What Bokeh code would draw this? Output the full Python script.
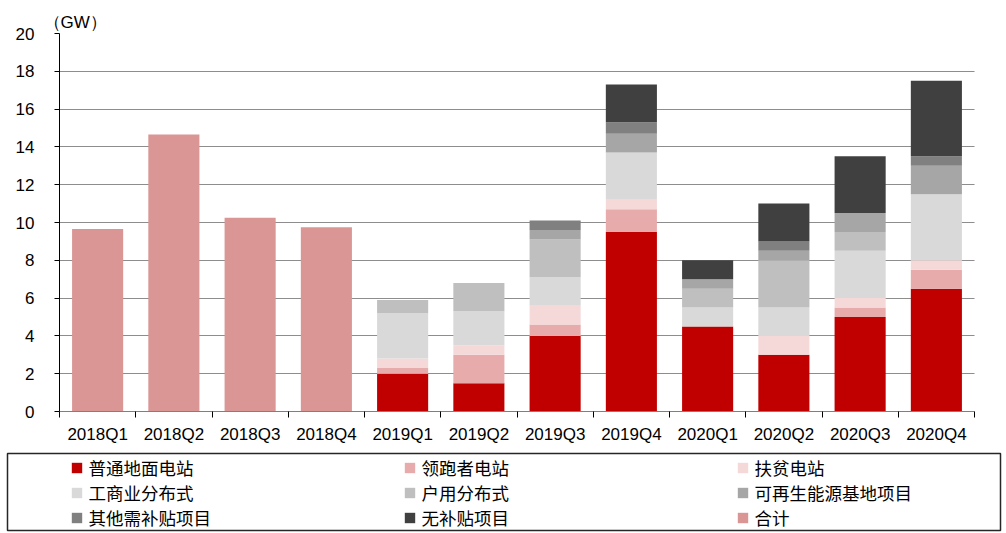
from bokeh.plotting import figure
from bokeh.models import Range1d, FixedTicker, Legend, LegendItem, ColumnDataSource, Title
from bokeh.layouts import column
from bokeh.embed import file_html
from bokeh.resources import INLINE

# ---------------- data ----------------
quarters = ["2018Q1", "2018Q2", "2018Q3", "2018Q4",
            "2019Q1", "2019Q2", "2019Q3", "2019Q4",
            "2020Q1", "2020Q2", "2020Q3", "2020Q4"]
ground    = [0, 0, 0, 0, 2.0, 1.5, 4.0, 9.5, 4.5, 3.0, 5.0, 6.5]   # 普通地面电站
leader    = [0, 0, 0, 0, 0.3, 1.5, 0.6, 1.2, 0.0, 0.0, 0.5, 1.0]   # 领跑者电站
poverty   = [0, 0, 0, 0, 0.5, 0.5, 1.0, 0.5, 0.0, 1.0, 0.5, 0.5]   # 扶贫电站
commerce  = [0, 0, 0, 0, 2.4, 1.8, 1.5, 2.5, 1.0, 1.5, 2.5, 3.5]   # 工商业分布式
household = [0, 0, 0, 0, 0.7, 1.5, 2.0, 0.0, 1.0, 2.5, 1.0, 0.0]   # 户用分布式
base      = [0, 0, 0, 0, 0.0, 0.0, 0.5, 1.0, 0.5, 0.5, 1.0, 1.5]   # 可再生能源基地项目
other     = [0, 0, 0, 0, 0.0, 0.0, 0.5, 0.6, 0.0, 0.5, 0.0, 0.5]   # 其他需补贴项目
nosubsidy = [0, 0, 0, 0, 0.0, 0.0, 0.0, 2.0, 1.0, 2.0, 3.0, 4.0]   # 无补贴项目
total     = [9.65, 14.65, 10.25, 9.75, 0, 0, 0, 0, 0, 0, 0, 0]     # 合计

series_keys = ["ground", "leader", "poverty", "commerce", "household", "base", "other", "nosubsidy"]
series_labels = ["普通地面电站", "领跑者电站", "扶贫电站", "工商业分布式", "户用分布式",
                 "可再生能源基地项目", "其他需补贴项目", "无补贴项目"]
series_colors = ["#C00000", "#E8ABAB", "#F5D9D9", "#D9D9D9", "#BFBFBF", "#A6A6A6", "#808080", "#404040"]
total_label = "合计"
total_color = "#D99694"
y_ticks = list(range(0, 21, 2))
unit_text = "（GW）"

xc = [i + 0.5 for i in range(len(quarters))]
source = ColumnDataSource(dict(x=xc, q=quarters, ground=ground, leader=leader, poverty=poverty,
                               commerce=commerce, household=household, base=base, other=other,
                               nosubsidy=nosubsidy, total=total))

FONT = "Liberation Sans"
CJK = "Noto Sans CJK SC"
BAR_W = 0.67

# ---------------- main chart ----------------
p = figure(frame_width=915, frame_height=378,
           min_border_left=59, min_border_right=32, min_border_top=33, min_border_bottom=41,
           x_range=Range1d(0, len(quarters)), y_range=Range1d(0, 20),
           output_backend="svg", toolbar_location=None, frame_align=False)

p.vbar_stack(series_keys, x="x", width=BAR_W, source=source,
             fill_color=series_colors, line_color=None)
p.vbar(x="x", top="total", width=BAR_W, source=source, fill_color=total_color, line_color=None)

p.outline_line_color = None
p.background_fill_color = "white"
p.xgrid.visible = False
p.ygrid.grid_line_color = "#1A1A1A"
p.ygrid.grid_line_dash = "1 1"
p.ygrid.grid_line_width = 1

xa = p.xaxis[0]
xa.ticker = FixedTicker(ticks=xc, minor_ticks=list(range(len(quarters) + 1)))
xa.major_label_overrides = {v: q for v, q in zip(xc, quarters)}
xa.major_tick_line_color = None
xa.major_tick_out = 0
xa.major_tick_in = 0
xa.minor_tick_line_color = "black"
xa.minor_tick_out = 6
xa.minor_tick_in = 0
xa.axis_line_color = "#7F7F7F"
xa.major_label_text_font = FONT
xa.major_label_text_font_size = "17px"
xa.major_label_text_color = "black"
xa.major_label_standoff = 7

ya = p.yaxis[0]
ya.ticker = FixedTicker(ticks=y_ticks, minor_ticks=[])
ya.major_tick_out = 5
ya.major_tick_in = 0
ya.major_tick_line_color = "black"
ya.axis_line_color = "black"
ya.major_label_text_font = FONT
ya.major_label_text_font_size = "17px"
ya.major_label_text_color = "black"
ya.major_label_standoff = 20

unit = Title(text=unit_text, align="left", offset=-16, standoff=3,
             text_font=FONT, text_font_size="17px", text_font_style="normal", text_color="black")
p.add_layout(unit, "above")

# ---------------- legend panel ----------------
lf = figure(frame_width=993, frame_height=77,
            min_border_left=7, min_border_right=6, min_border_top=1, min_border_bottom=3,
            x_range=Range1d(0, 1), y_range=Range1d(0, 1),
            x_axis_type=None, y_axis_type=None,
            output_backend="svg", toolbar_location=None, frame_align=False)
lf.grid.visible = False
lf.outline_line_color = "#262626"
lf.outline_line_width = 1.5

lrs = lf.vbar_stack(series_keys, x="x", width=BAR_W, source=source,
                    fill_color=series_colors, line_color=None)
ltot = lf.vbar(x="x", top="total", width=BAR_W, source=source, fill_color=total_color, line_color=None)
for r in lrs:
    r.visible = False
ltot.visible = False

items = [LegendItem(label=lab, renderers=[r]) for lab, r in zip(series_labels, lrs)]
items.append(LegendItem(label=total_label, renderers=[ltot]))

legend = Legend(items=items, location=(62.5, 0), orientation="horizontal", ncols=3,
                glyph_width=13, glyph_height=13, label_standoff=6, label_width=314,
                label_height=21, spacing=0, padding=0, margin=0,
                border_line_color=None, background_fill_alpha=0,
                label_text_font=CJK, label_text_font_size="17.5px", label_text_color="black")
lf.add_layout(legend)

layout = column(p, lf, spacing=0)

open("out.html", "w").write(file_html(layout, INLINE))
